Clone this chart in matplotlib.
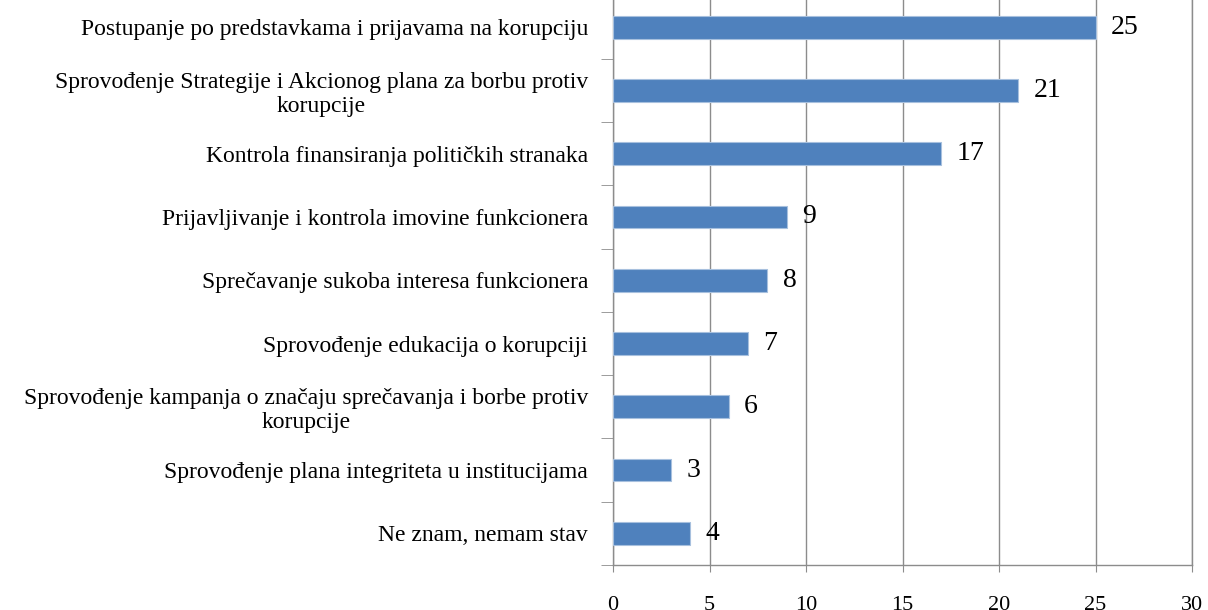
import matplotlib
matplotlib.use('Agg')
import matplotlib.pyplot as plt
import numpy as np

# Data (top to bottom as in the reference)
categories = [
    "Postupanje po predstavkama i prijavama na korupciju",
    "Sprovođenje Strategije i Akcionog plana za borbu protiv\nkorupcije",
    "Kontrola finansiranja političkih stranaka",
    "Prijavljivanje i kontrola imovine funkcionera",
    "Sprečavanje sukoba interesa funkcionera",
    "Sprovođenje edukacija o korupciji",
    "Sprovođenje kampanja o značaju sprečavanja i borbe protiv\nkorupcije",
    "Sprovođenje plana integriteta u institucijama",
    "Ne znam, nemam stav",
]
values = [25, 21, 17, 9, 8, 7, 6, 3, 4]
x_ticks = [0, 5, 10, 15, 20, 25, 30]

bar_color = '#4F81BD'
grid_color = '#8c8c8c'
font = 'Liberation Serif'

fig = plt.figure(figsize=(12.08, 6.10), dpi=100)
fig.patch.set_facecolor('white')
# axes placed so the top of the plot area is just outside the picture (as in the reference)
ax = fig.add_axes([613 / 1208, 45 / 610, 579 / 1208, 569.5 / 610])

n = len(categories)
ypos = np.arange(n)
ax.barh(ypos, values, height=0.36, color=bar_color, edgecolor='#a7c0de',
        linewidth=0.8, zorder=3)
ax.set_ylim(n - 0.5, -0.5)
ax.set_xlim(0, 30)

# value labels
for y, v in zip(ypos, values):
    ax.annotate(str(v), (v, y), xytext=(11, 0), textcoords='offset points',
                va='center', ha='left', fontsize=20, family=font, color='black')

# grid
ax.set_xticks(x_ticks)
ax.xaxis.grid(True, color=grid_color, linewidth=1.0, zorder=0)
ax.set_axisbelow(True)
ax.tick_params(axis='x', direction='out', length=5, color=grid_color,
               pad=17, labelsize=16)
for lbl in ax.get_xticklabels():
    lbl.set_family(font)

# y ticks: labels at category centres, tick marks at boundaries
ax.set_yticks(ypos)
ax.set_yticklabels(categories, family=font, fontsize=17, linespacing=1.18)
for lbl in ax.get_yticklabels():
    lbl.set_multialignment('center')
ax.tick_params(axis='y', which='major', length=0, pad=18)
ax.set_yticks(np.arange(n + 1) - 0.5, minor=True)
ax.tick_params(axis='y', which='minor', direction='out', length=9, color=grid_color)

for s in ['top']:
    ax.spines[s].set_visible(False)
for s in ['left', 'bottom', 'right']:
    ax.spines[s].set_color(grid_color)
    ax.spines[s].set_linewidth(1.0)

plt.savefig('out.png', dpi=100, facecolor='white')
